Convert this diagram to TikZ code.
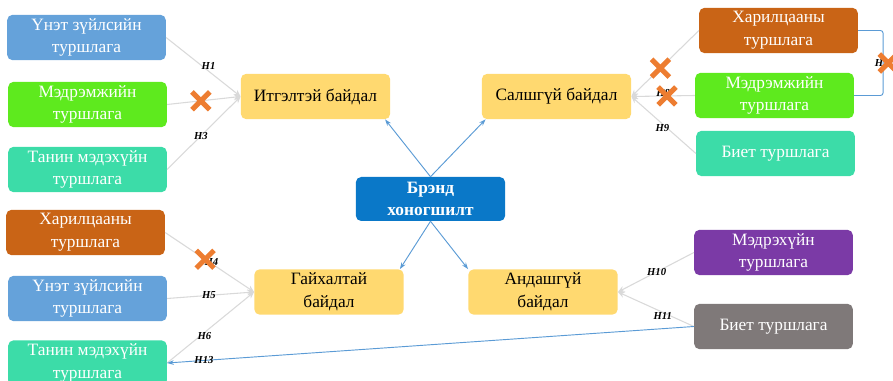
\documentclass[tikz,border=0pt]{standalone}
\usepackage{fontspec}
\setmainfont{Liberation Serif}
\usetikzlibrary{arrows.meta,shapes.misc}

\definecolor{valblue}{HTML}{65A2DA}
\definecolor{feelgreen}{HTML}{5EEA1E}
\definecolor{cogteal}{HTML}{3CDCA8}
\definecolor{relbrown}{HTML}{C96416}
\definecolor{stateyellow}{HTML}{FFD970}
\definecolor{brandblue}{HTML}{0A78C8}
\definecolor{sensepurple}{HTML}{7B3AA6}
\definecolor{physgray}{HTML}{7F7979}
\definecolor{linkgray}{HTML}{D9D9D9}
\definecolor{arrowblue}{HTML}{5B9BD5}
\definecolor{xorange}{HTML}{ED7D31}

\begin{document}
\begin{tikzpicture}[x=0.75pt, y=-0.75pt,
		box/.style={rounded corners=4pt, minimum width=119pt, minimum height=34pt, align=center, inner sep=2pt, text=white, font=\fontsize{13}{17}\selectfont},
		state/.style={box, fill=stateyellow, text=black, minimum width=112pt},
		link/.style={draw=linkgray, line width=0.8pt, -{Stealth[length=5pt, width=4.5pt]}},
		effect/.style={draw=arrowblue, line width=0.7pt, -{Stealth[length=5pt, width=3.5pt]}},
		hlab/.style={text=black, font=\fontsize{8}{9}\selectfont\bfseries\itshape, inner sep=1pt},
		xmark/.style={cross out, draw=xorange, line width=3.8pt, minimum size=9.5pt, inner sep=0pt}]
	\useasboundingbox (0,0) rectangle (893,381);

	% states
	\node[state] (itg) at (315.5, 96.5) {Итгэлтэй байдал};
	\node[state] (sal) at (556.5, 96.5) {Салшгүй байдал};
	\node[state] (gai) at (329, 292) {Гайхалтай\\байдал};
	\node[state] (and) at (543, 292) {Андашгүй\\байдал};
	\node[box, fill=brandblue, font=\fontsize{13}{17}\selectfont\bfseries, minimum width=112pt, minimum height=33pt] (brand) at (430.5, 199) {Брэнд\\хоногшилт};

	% experiences
	\node[box, fill=valblue] (val_1) at (86.5, 37.5) {Үнэт зүйлсийн\\туршлага};
	\node[box, fill=feelgreen] (feel_1) at (87.5, 104.5) {Мэдрэмжийн\\туршлага};
	\node[box, fill=cogteal] (cog_1) at (87.5, 169.5) {Танин мэдэхүйн\\туршлага};
	\node[box, fill=relbrown] (rel_1) at (778.5, 30.5) {Харилцааны\\туршлага};
	\node[box, fill=feelgreen] (feel_2) at (774.5, 95.5) {Мэдрэмжийн\\туршлага};
	\node[box, fill=cogteal] (phys_1) at (775.5, 153.5) {Биет туршлага};
	\node[box, fill=relbrown] (rel_2) at (85.5, 232.5) {Харилцааны\\туршлага};
	\node[box, fill=valblue] (val_2) at (87.5, 298.5) {Үнэт зүйлсийн\\туршлага};
	\node[box, fill=cogteal] (cog_2) at (87.5, 363) {Танин мэдэхүйн\\туршлага};
	\node[box, fill=sensepurple] (sense) at (773.5, 252.5) {Мэдрэхүйн\\туршлага};
	\node[box, fill=physgray] (phys_2) at (773.5, 326.5) {Биет туршлага};

	\draw[effect] (brand.north) to ([xshift=-4pt]itg.south east);
	\draw[effect] (brand.north) to ([xshift=3pt]sal.south west);
	\draw[effect] (brand.south) to ([xshift=-3pt]gai.north east);
	\draw[effect] (brand.south) to (and.north west);

	\draw[link] (val_1.east) to node[hlab, above, pos=0.57] {H1} (itg.west);
	\draw[link] (feel_1.east) to node[xmark, pos=0.46] {} (itg.west);
	\draw[link] (cog_1.east) to node[hlab, pos=0.46] {H3} (itg.west);

	\draw[link] (rel_1.west) to node[xmark, pos=0.57] {} (sal.east);
	\draw[link] (feel_2.west) to node[hlab, pos=0.5, yshift=2pt] {H8} node[xmark, pos=0.44] {} (sal.east);
	\draw[link] (phys_1.west) to node[hlab, pos=0.52, yshift=-3pt] {H9} (sal.east);
	\draw[arrowblue, line width=0.7pt, rounded corners=2pt] (rel_1.east) -- ++(25,0) |- node[hlab, pos=0.25, xshift=-1pt] {H7} node[xmark, pos=0.25, xshift=3.8pt] {} (feel_2.east);

	\draw[link] (rel_2.east) to node[hlab, pos=0.52, yshift=1pt] {H4} node[xmark, pos=0.45] {} (gai.west);
	\draw[link] (val_2.east) to node[hlab, pos=0.48] {H5} (gai.west);
	\draw[link] (cog_2.east) to node[hlab, pos=0.43, yshift=-3pt] {H6} (gai.west);

	\draw[link] (sense.west) to node[hlab, pos=0.49] {H10} (and.east);
	\draw[link] (phys_2.west) to node[hlab, pos=0.41, yshift=-3pt] {H11} (and.east);

	\draw[effect] (phys_2.west) to node[hlab, pos=0.93] {H13} (cog_2.east);
\end{tikzpicture}
\end{document}
